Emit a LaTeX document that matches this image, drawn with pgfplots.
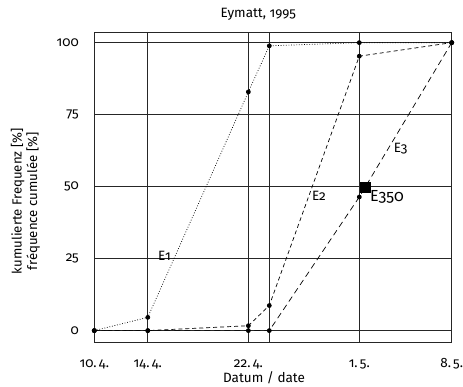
\documentclass[border=0pt]{standalone}
\usepackage{fontspec}
\setmainfont{Fira Sans}[Numbers=OldStyle]
\usepackage{pgfplots}
\pgfplotsset{compat=1.18}
\begin{document}
\begin{tikzpicture}[x=1pt,y=1pt,font=\fontsize{13.5}{16}\selectfont]
\useasboundingbox (0,0) rectangle (463,386);
\begin{axis}[
  at={(94.3pt,43.3pt)}, anchor=south west,
  scale only axis, width=357.4pt, height=310.7pt,
  xmin=0, xmax=28, ymin=-4.2, ymax=103.7,
  xtick={0,4.19,12.07,20.76,28},
  xticklabels={10.\,4.,14.\,4.,22.\,4.,1.\,5.,8.\,5.},
  extra x ticks={13.71}, extra x tick labels={},
  extra x tick style={grid=major, tick style={draw=none}},
  ytick={0,25,50,75,100},
  grid=major,
  major grid style={draw=black!85, line width=0.9pt},
  axis line style={draw=black!85, line width=0.9pt},
  tick style={draw=none},
  /pgf/number format/assume math mode=true,
  tick label style={font=\fontsize{13.5}{16}\selectfont},
  xticklabel style={anchor=base, yshift=-25pt},
  yticklabel style={anchor=east, xshift=-12pt},
  title={Eymatt, 1995},
  title style={at={(0.459,1)}, anchor=south, yshift=2pt},
  xlabel={Datum / date},
  xlabel style={at={(0.475,-0.114)}, anchor=center},
  ylabel={kumulierte Frequenz [\%]\\fréquence cumulée [\%]},
  ylabel style={at={(-0.1925,0.455)}, anchor=center, rotate=0, align=center, font=\fontsize{13.2}{15.5}\selectfont},
  clip=false,
]
\addplot[black, line width=0.7pt, dash pattern=on 0.8pt off 1.8pt, mark=*, mark size=2pt, mark options={solid, fill=black}]
  coordinates {(0,0) (4.19,4.6) (12.07,82.9) (13.71,98.9) (20.76,100) (28,100)};
\addplot[black, line width=0.7pt, dash pattern=on 4pt off 3pt, mark=*, mark size=2pt, mark options={solid, fill=black}]
  coordinates {(0,0) (4.19,0) (12.07,1.7) (13.71,8.7) (20.76,95.3) (28,100)};
\addplot[black, line width=0.7pt, dash pattern=on 6pt off 4pt, mark=*, mark size=2pt, mark options={solid, fill=black}]
  coordinates {(0,0) (4.19,0) (12.07,0) (13.71,0) (20.76,46.4) (28,100)};
\addplot[only marks, mark=square*, mark size=5pt, black] coordinates {(21.2,49.7)};
\node at (axis cs:5.5,25.9) {E1};
\node at (axis cs:17.6,46.9) {E2};
\node at (axis cs:24.0,63.3) {E3};
\node[anchor=west, inner sep=0pt] at (axis cs:21.6,46.4) {\fontsize{16}{18}\selectfont E350};
\end{axis}
\end{tikzpicture}
\end{document}
